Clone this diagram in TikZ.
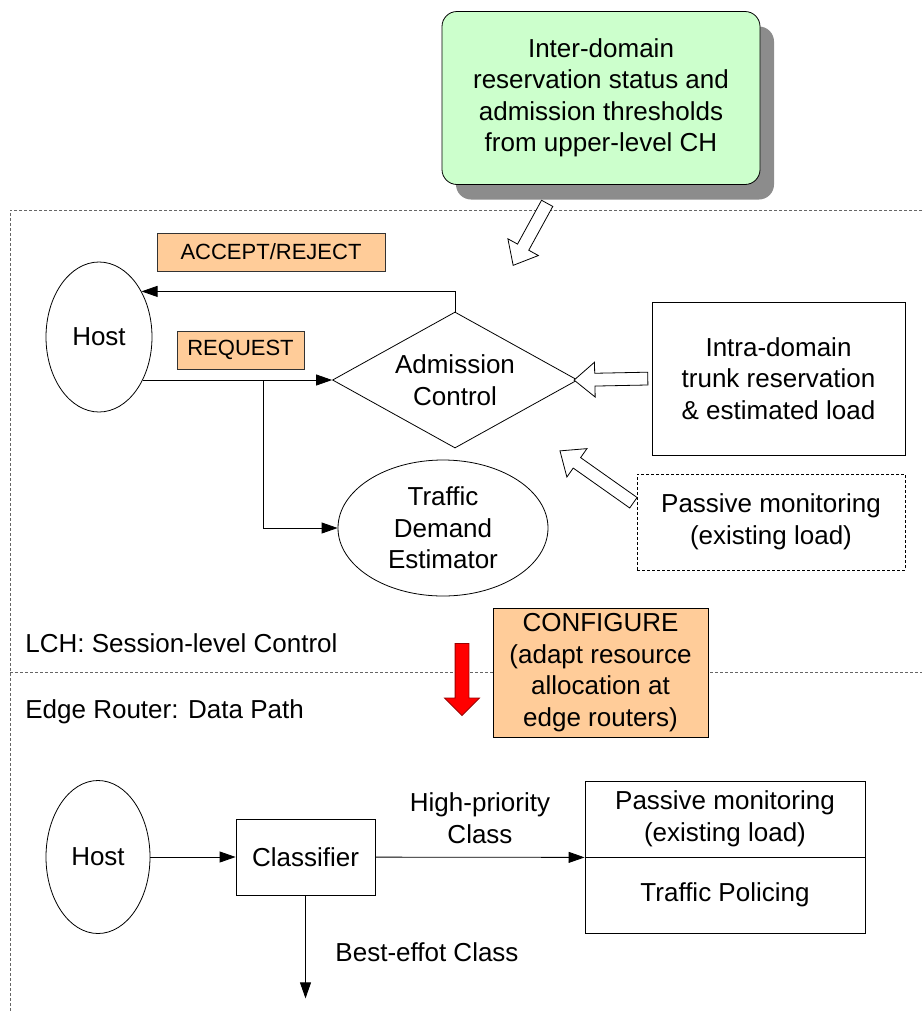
\documentclass[tikz,border=0pt]{standalone}
\usepackage{fontspec}
\setmainfont{Liberation Sans}
\usetikzlibrary{shapes.geometric, shapes.arrows, arrows.meta, calc, shadows}

\definecolor{peach}{RGB}{255,204,153}
\definecolor{mint}{RGB}{204,255,204}

\tikzset{
  txt/.style={font=\fontsize{26}{31.5}\selectfont, align=center},
  tag/.style={draw=black!80, fill=peach, font=\fontsize{22}{27}\selectfont, inner sep=0pt},
  box/.style={draw, txt, inner sep=0pt},
  oval/.style={ellipse, draw, txt, inner sep=0pt},
  hollow arrow/.style={single arrow, draw, fill=white, inner sep=6pt,
    single arrow head extend=11pt, single arrow tip angle=80, sloped, allow upside down},
  frame/.style={densely dashed, draw=black!60, line width=0.8pt},
}

\begin{document}
\begin{tikzpicture}[x=1pt, y=-1pt, >={Triangle[length=16pt,width=11pt]}, line width=0.8pt]
        \useasboundingbox (0,0) rectangle (922,1013);

        % frame of the two levels
        \draw[frame] (922,210) -- (10,210) -- (10,1013);
        \draw[frame] (10,672) -- (922,672);

        % session-level control
        \node[box, rounded corners=15pt, fill=mint, minimum width=318pt, minimum height=173pt,
              drop shadow={shadow xshift=14pt, shadow yshift=-15pt, fill=black!45, opacity=1}]
              at (601,98) (upper) {Inter-domain\\reservation status and\\admission thresholds\\from upper-level CH};
        \node[oval, minimum width=106pt, minimum height=150pt] at (99,337) (host1) {Host};
        \node[tag, minimum width=228pt, minimum height=38pt] at (271,252) (accept) {ACCEPT/REJECT};
        \node[tag, minimum width=127pt, minimum height=38pt] at (240.5,350) (request) {REQUEST};
        \node[diamond, draw, txt, aspect=1.8, inner sep=0pt, minimum width=245pt, minimum height=136pt]
              at (455,380) (admission) {Admission\\Control};
        \node[box, minimum width=253pt, minimum height=153pt] at (778.5,378.5) (intra) {Intra-domain\\trunk reservation\\\& estimated load};
        \node[box, densely dashed, minimum width=268pt, minimum height=96pt] at (771,522) (passive1) {Passive monitoring\\(existing load)};
        \node[oval, minimum width=210pt, minimum height=136pt] at (443,528) (tde) {Traffic\\Demand\\Estimator};

        \node[txt, anchor=west, inner sep=0pt] at (25,643) (lchlabel) {LCH: Session-level Control};
        \node[txt, anchor=west, inner sep=0pt] at (25,712) (edgelabel) {Edge Router: Data Path};

        \node[box, fill=peach, minimum width=215pt, minimum height=129pt] at (600.5,672.5) (configure) {CONFIGURE\\(adapt resource\\allocation at\\edge routers)};
        \node[single arrow, fill=red, draw=red!60!black, rotate=-90, inner sep=6.5pt,
              single arrow head extend=10.5pt, minimum height=72pt] at (462,676) (cfgarrow) {};

        % edge router data path
        \node[oval, minimum width=104pt, minimum height=153pt] at (98,857) (host2) {Host};
        \node[box, minimum width=139pt, minimum height=76pt] at (305.5,857) (classifier) {Classifier};
        \node[box, minimum width=280pt, minimum height=76pt] at (725,819) (monitor2) {Passive monitoring\\(existing load)};
        \node[box, minimum width=280pt, minimum height=76pt] at (725,895) (policing) {Traffic Policing};
        \node[txt] at (480,818) (hplabel) {High-priority\\Class};
        \node[txt] at (427,952) (belabel) {Best-effot Class};

        \coordinate (upperout) at (549,200);
        \coordinate (ctrin) at (515,262);
        \coordinate (split) at (263,380);
        \coordinate (monout) at ($(passive1.west)+(0,-17)$);
        \coordinate (monin) at (563,453);

        \draw[->] (admission.north) |- (host1.47);
        \draw[->] (admission.west -| host1.-45) -- (admission.west);
        \draw[->] (split) |- (tde);

        \path let \p1=($(ctrin)-(upperout)$), \n1={veclen(\x1,\y1)} in
              (upperout) -- (ctrin) node[midway, hollow arrow, minimum height=\n1] (inarrow) {};
        \path let \p1=($(admission.east)-(intra.west)$), \n1={veclen(\x1,\y1)} in
              (intra.west) -- (admission.east) node[midway, hollow arrow, minimum height=\n1] (intraarrow) {};
        \path let \p1=($(monin)-(monout)$), \n1={veclen(\x1,\y1)} in
              (monout) -- (monin) node[midway, hollow arrow, minimum height=\n1] (monarrow) {};

        \draw[->] (host2) -- (classifier);
        \draw[->] (classifier) -- (monitor2.south west);
        \draw[->] (classifier.south) -- ++(0,103) coordinate (beout);

    \end{tikzpicture}
\end{document}
